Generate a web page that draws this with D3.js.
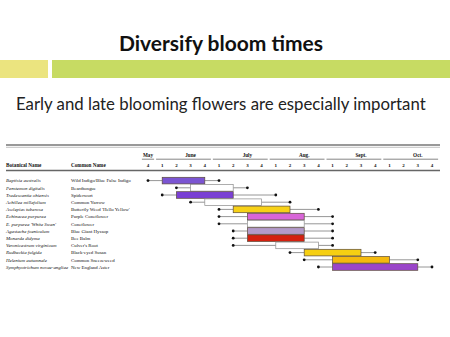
<!DOCTYPE html>
<html>
<head>
<meta charset="utf-8">
<script src="https://cdn.jsdelivr.net/npm/d3@7"></script>
<style>
  body { margin: 0; background: #fff; }
  svg { display: block; }
</style>
</head>
<body>
<div id="chart"></div>
<script>
// plants, one row each
const botanical = [
  "Baptisia australis", "Penstemon digitalis", "Tradescantia ohiensis",
  "Achillea millefolium", "Asclepias tuberosa", "Echinacea purpurea",
  "E. purpurea 'White Swan'", "Agastache foeniculum", "Monarda didyma",
  "Veronicastrum virginicum", "Rudbeckia fulgida", "Helenium autumnale",
  "Symphyotrichum novae-angliae"
];
const common = [
  "Wild Indigo/Blue False Indigo", "Beardtongue", "Spiderwort",
  "Common Yarrow", "Butterfly Weed 'Hello Yellow'", "Purple Coneflower",
  "Coneflower", "Blue Giant Hyssop", "Bee Balm", "Culver's Root",
  "Black-eyed Susan", "Common Sneezeweed", "New England Aster"
];

// bloom period, as week index (0 = May wk 4)
const bloomStart = [0, 2, 1, 3, 5, 5, 5, 6, 6, 6, 10, 11, 12];
const peakStart  = [1, 3, 2, 4, 6, 7, 7, 7, 7, 9, 11, 13, 13];
const peakEnd    = [4, 6, 6, 8, 10, 11, 11, 11, 11, 12, 15, 17, 19];
const bloomEnd   = [5, 7, 9, 10, 12, 13, 13, 13, 13, 13, 16, 19, 20];

// header
const monthNames = ["May", "June", "July", "Aug.", "Sept.", "Oct."];
const monthWeeks = [1, 4, 4, 4, 4, 4];
const weekLabels = ["4", "1", "2", "3", "4", "1", "2", "3", "4", "1", "2",
  "3", "4", "1", "2", "3", "4", "1", "2", "3", "4"];

const peakColors = ["#7b55d2", "#ffffff", "#7a3fd4", "#ffffff", "#f7d117",
  "#d865d8", "#ffffff", "#b39ac9", "#d4200f", "#ffffff", "#f6cf12",
  "#f4b90e", "#9a45c9"];

const width = 450, height = 337;

const svg = d3.select("#chart").append("svg")
  .attr("width", width).attr("height", height);

/* slide heading */
svg.append("text")
  .attr("x", 221).attr("y", 51)
  .attr("text-anchor", "middle")
  .attr("font-family", "Lato, 'Open Sans', sans-serif")
  .attr("font-weight", "bold")
  .attr("font-size", 21)
  .attr("fill", "#111")
  .text("Diversify bloom times");

svg.append("rect").attr("x", 0).attr("y", 60).attr("width", 48).attr("height", 18)
  .attr("fill", "#ebe47f");
svg.append("rect").attr("x", 52).attr("y", 60).attr("width", 398).attr("height", 18)
  .attr("fill", "#c7db63");

svg.append("text")
  .attr("x", 16).attr("y", 110)
  .attr("font-family", "Lato, 'Open Sans', sans-serif")
  .attr("font-size", 16.8)
  .attr("fill", "#222")
  .text("Early and late blooming flowers are especially important");

/* scales */
const x = d3.scaleLinear().domain([0, 20]).range([148, 432]);
const step = x(1) - x(0);
const y = d3.scaleBand()
  .domain(d3.range(botanical.length))
  .range([177, 270.6]);
const bw = y.bandwidth();
const cy = i => y(i) + bw / 2;

const serif = "'Liberation Serif', 'DejaVu Serif', serif";
const table = svg.append("g").attr("font-family", serif).attr("fill", "#111");

/* table rules */
table.append("line").attr("x1", 6).attr("x2", 440).attr("y1", 145).attr("y2", 145)
  .attr("stroke", "#777").attr("stroke-width", 1.4);
table.append("line").attr("x1", 6).attr("x2", 440).attr("y1", 147.3).attr("y2", 147.3)
  .attr("stroke", "#999").attr("stroke-width", 0.6);
table.append("line").attr("x1", 6).attr("x2", 440).attr("y1", 170.5).attr("y2", 170.5)
  .attr("stroke", "#666").attr("stroke-width", 1.4);

/* month headers */
let first = 0;
monthNames.forEach((m, k) => {
  const n = monthWeeks[k];
  const labelAt = n > 1 ? first + 2 : first;
  table.append("text")
    .attr("x", x(labelAt)).attr("y", 156.5)
    .attr("text-anchor", "middle")
    .attr("font-size", 5.2).attr("font-weight", "bold")
    .attr("fill", "#111")
    .text(m);
  table.append("line")
    .attr("x1", x(first) - step / 2 + 1).attr("x2", x(first + n - 1) + step / 2 - 1)
    .attr("y1", 159.2).attr("y2", 159.2)
    .attr("stroke", "#666").attr("stroke-width", 0.8);
  first += n;
});

table.selectAll(".wk").data(weekLabels).join("text")
  .attr("class", "wk")
  .attr("x", (d, i) => x(i)).attr("y", 167)
  .attr("text-anchor", "middle")
  .attr("font-size", 5).attr("font-weight", "bold")
  .text(d => d);

table.append("text").attr("x", 6).attr("y", 167)
  .attr("font-size", 5.2).attr("font-weight", "bold").text("Botanical Name");
table.append("text").attr("x", 71).attr("y", 167)
  .attr("font-size", 5.2).attr("font-weight", "bold").text("Common Name");

/* plant names */
table.selectAll(".bot").data(botanical).join("text")
  .attr("class", "bot")
  .attr("x", 6).attr("y", (d, i) => cy(i) + 1.7)
  .attr("font-size", 4.9).attr("font-style", "italic")
  .text(d => d);
table.selectAll(".com").data(common).join("text")
  .attr("class", "com")
  .attr("x", 71).attr("y", (d, i) => cy(i) + 1.7)
  .attr("font-size", 4.9)
  .text(d => d);

/* bloom bars */
const rows = svg.append("g").selectAll("g").data(botanical).join("g");

rows.append("line")
  .attr("x1", (d, i) => x(bloomStart[i])).attr("x2", (d, i) => x(peakStart[i]))
  .attr("y1", (d, i) => cy(i)).attr("y2", (d, i) => cy(i))
  .attr("stroke", "#8a8a8a").attr("stroke-width", 0.9);
rows.append("line")
  .attr("x1", (d, i) => x(peakEnd[i])).attr("x2", (d, i) => x(bloomEnd[i]))
  .attr("y1", (d, i) => cy(i)).attr("y2", (d, i) => cy(i))
  .attr("stroke", "#8a8a8a").attr("stroke-width", 0.9);

rows.append("rect")
  .attr("x", (d, i) => x(peakStart[i]))
  .attr("y", (d, i) => y(i) + 0.3)
  .attr("width", (d, i) => x(peakEnd[i]) - x(peakStart[i]))
  .attr("height", bw - 0.6)
  .attr("fill", (d, i) => peakColors[i])
  .attr("stroke", (d, i) => peakColors[i] === "#ffffff" ? "#8a8a8a" : "#5b4a3a")
  .attr("stroke-width", 0.7);

rows.append("circle")
  .attr("cx", (d, i) => x(bloomStart[i])).attr("cy", (d, i) => cy(i))
  .attr("r", 1.4).attr("fill", "#111");
rows.append("circle")
  .attr("cx", (d, i) => x(bloomEnd[i])).attr("cy", (d, i) => cy(i))
  .attr("r", 1.4).attr("fill", "#111");
</script>
</body>
</html>
